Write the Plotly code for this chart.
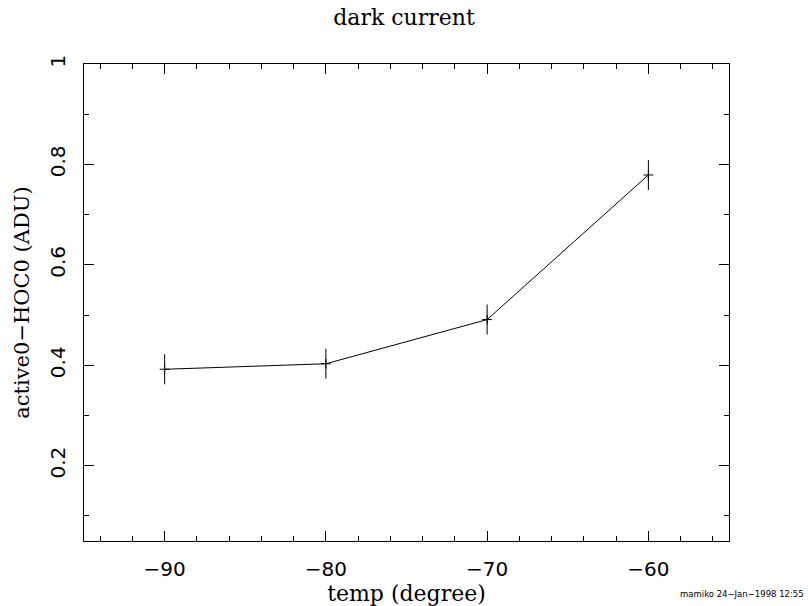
import plotly.graph_objects as go

# Dark current measured at each temperature
temps = [-90, -80, -70, -60]
dark = [0.392, 0.403, 0.491, 0.779]
dark_err = [0.03, 0.03, 0.03, 0.03]

x_ticks = [-90, -80, -70, -60]
x_ticktext = ["\u221290", "\u221280", "\u221270", "\u221260"]
y_ticks = [0.2, 0.4, 0.6, 0.8, 1.0]
y_ticktext = ["0.2", "0.4", "0.6", "0.8", "1"]

fig = go.Figure()
fig.add_trace(go.Scatter(
    x=temps, y=dark,
    mode="lines+markers",
    line=dict(color="black", width=1),
    marker=dict(symbol="cross-thin", size=7, line=dict(color="black", width=1)),
    error_y=dict(type="data", array=dark_err, visible=True, width=0,
                 color="black", thickness=1),
    showlegend=False,
))

axis_common = dict(
    showline=True, linecolor="black", linewidth=1, mirror="allticks",
    ticks="inside", ticklen=10, tickwidth=1, tickcolor="black",
    showgrid=False, zeroline=False, automargin=False,
)

fig.update_xaxes(
    range=[-95, -55], tickvals=x_ticks, ticktext=x_ticktext,
    tickfont=dict(family="DejaVu Sans", size=20, color="black"),
    minor=dict(ticks="inside", ticklen=5, tickcolor="black", dtick=2, tick0=-90),
    title=dict(text="temp (degree)", standoff=4,
               font=dict(family="DejaVu Serif", size=22, color="black")),
    ticklabelstandoff=10,
    **axis_common,
)
fig.update_yaxes(
    range=[0.05, 1.0], tickvals=y_ticks, ticktext=y_ticktext, tickangle=-90,
    tickfont=dict(family="DejaVu Sans", size=20, color="black"),
    minor=dict(ticks="inside", ticklen=5, tickcolor="black", dtick=0.1, tick0=0),
    title=dict(text="active0\u2212HOC0 (ADU)", standoff=10,
               font=dict(family="DejaVu Serif", size=21, color="black")),
    ticklabelstandoff=10,
    **axis_common,
)

fig.update_layout(
    width=808, height=606,
    margin=dict(l=84, r=79, t=64, b=65),
    paper_bgcolor="white", plot_bgcolor="white",
    title=dict(text="dark current", x=0.5, xanchor="center", y=0.972, yanchor="middle",
               font=dict(family="DejaVu Serif", size=22, color="black")),
)

fig.add_annotation(
    text="mamiko 24\u2212Jan\u22121998 12:55",
    xref="paper", yref="paper", x=0.921, y=-0.111,
    xanchor="left", yanchor="middle", showarrow=False,
    font=dict(family="DejaVu Sans", size=8.5, color="black"),
)

fig.write_html("out.html")
